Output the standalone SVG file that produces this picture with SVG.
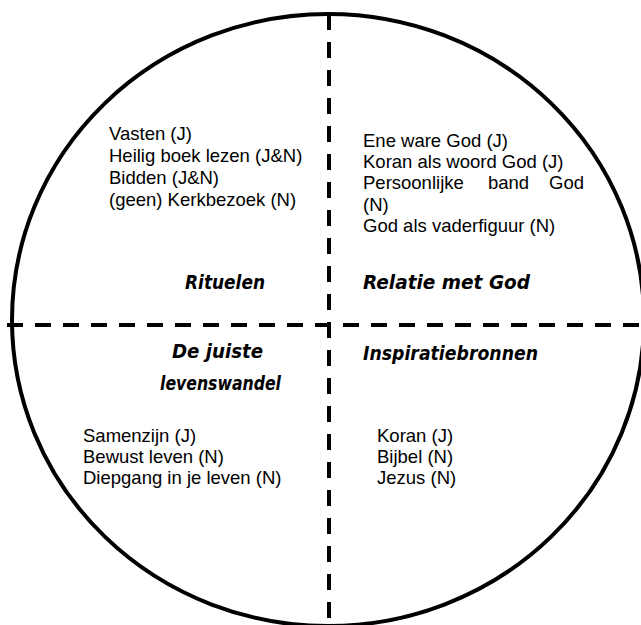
<svg xmlns="http://www.w3.org/2000/svg" width="641" height="625" viewBox="0 0 641 625">
<style>
.b{font-family:"Liberation Sans",Arial,sans-serif;font-size:18.5px;fill:#000}
.t{font-family:"DejaVu Sans",sans-serif;font-size:19px;font-weight:bold;font-style:italic;fill:#000}
.d{stroke:#000;stroke-width:4;stroke-dasharray:16 12;fill:none}
</style>
<rect width="641" height="625" fill="#fff"/>
<g id="circle"><ellipse cx="328" cy="320" rx="316" ry="306" fill="none" stroke="#000" stroke-width="4"/></g>
<g id="connectors">
<line class="d" x1="329" y1="14" x2="329" y2="625"/>
<line class="d" x1="7" y1="325" x2="641" y2="325"/>
</g>
<g id="rituelen">
<text class="t" x="185" y="289" textLength="80" lengthAdjust="spacingAndGlyphs">Rituelen</text>
<text class="b" x="109" y="140">Vasten (J)</text>
<text class="b" x="109" y="162">Heilig boek lezen (J&amp;N)</text>
<text class="b" x="109" y="184">Bidden (J&amp;N)</text>
<text class="b" x="109" y="206">(geen) Kerkbezoek (N)</text>
</g>
<g id="relatie">
<text class="t" x="363" y="289" textLength="167" lengthAdjust="spacingAndGlyphs">Relatie met God</text>
<text class="b" x="363" y="146.7">Ene ware God (J)</text>
<text class="b" x="363" y="168">Koran als woord God (J)</text>
<text class="b" y="189.3"><tspan x="363">Persoonlijke</tspan><tspan x="488">band</tspan><tspan x="549">God</tspan></text>
<text class="b" x="363" y="210.6">(N)</text>
<text class="b" x="363" y="232">God als vaderfiguur (N)</text>
</g>
<g id="levenswandel">
<text class="t" x="172" y="358" textLength="91" lengthAdjust="spacingAndGlyphs">De juiste</text>
<text class="t" x="160" y="390" textLength="121" lengthAdjust="spacingAndGlyphs">levenswandel</text>
<text class="b" x="83" y="442">Samenzijn (J)</text>
<text class="b" x="83" y="463">Bewust leven (N)</text>
<text class="b" x="83" y="484">Diepgang in je leven (N)</text>
</g>
<g id="inspiratie">
<text class="t" x="363" y="360" textLength="175" lengthAdjust="spacingAndGlyphs">Inspiratiebronnen</text>
<text class="b" x="377" y="442">Koran (J)</text>
<text class="b" x="377" y="463">Bijbel (N)</text>
<text class="b" x="377" y="484">Jezus (N)</text>
</g>
</svg>
